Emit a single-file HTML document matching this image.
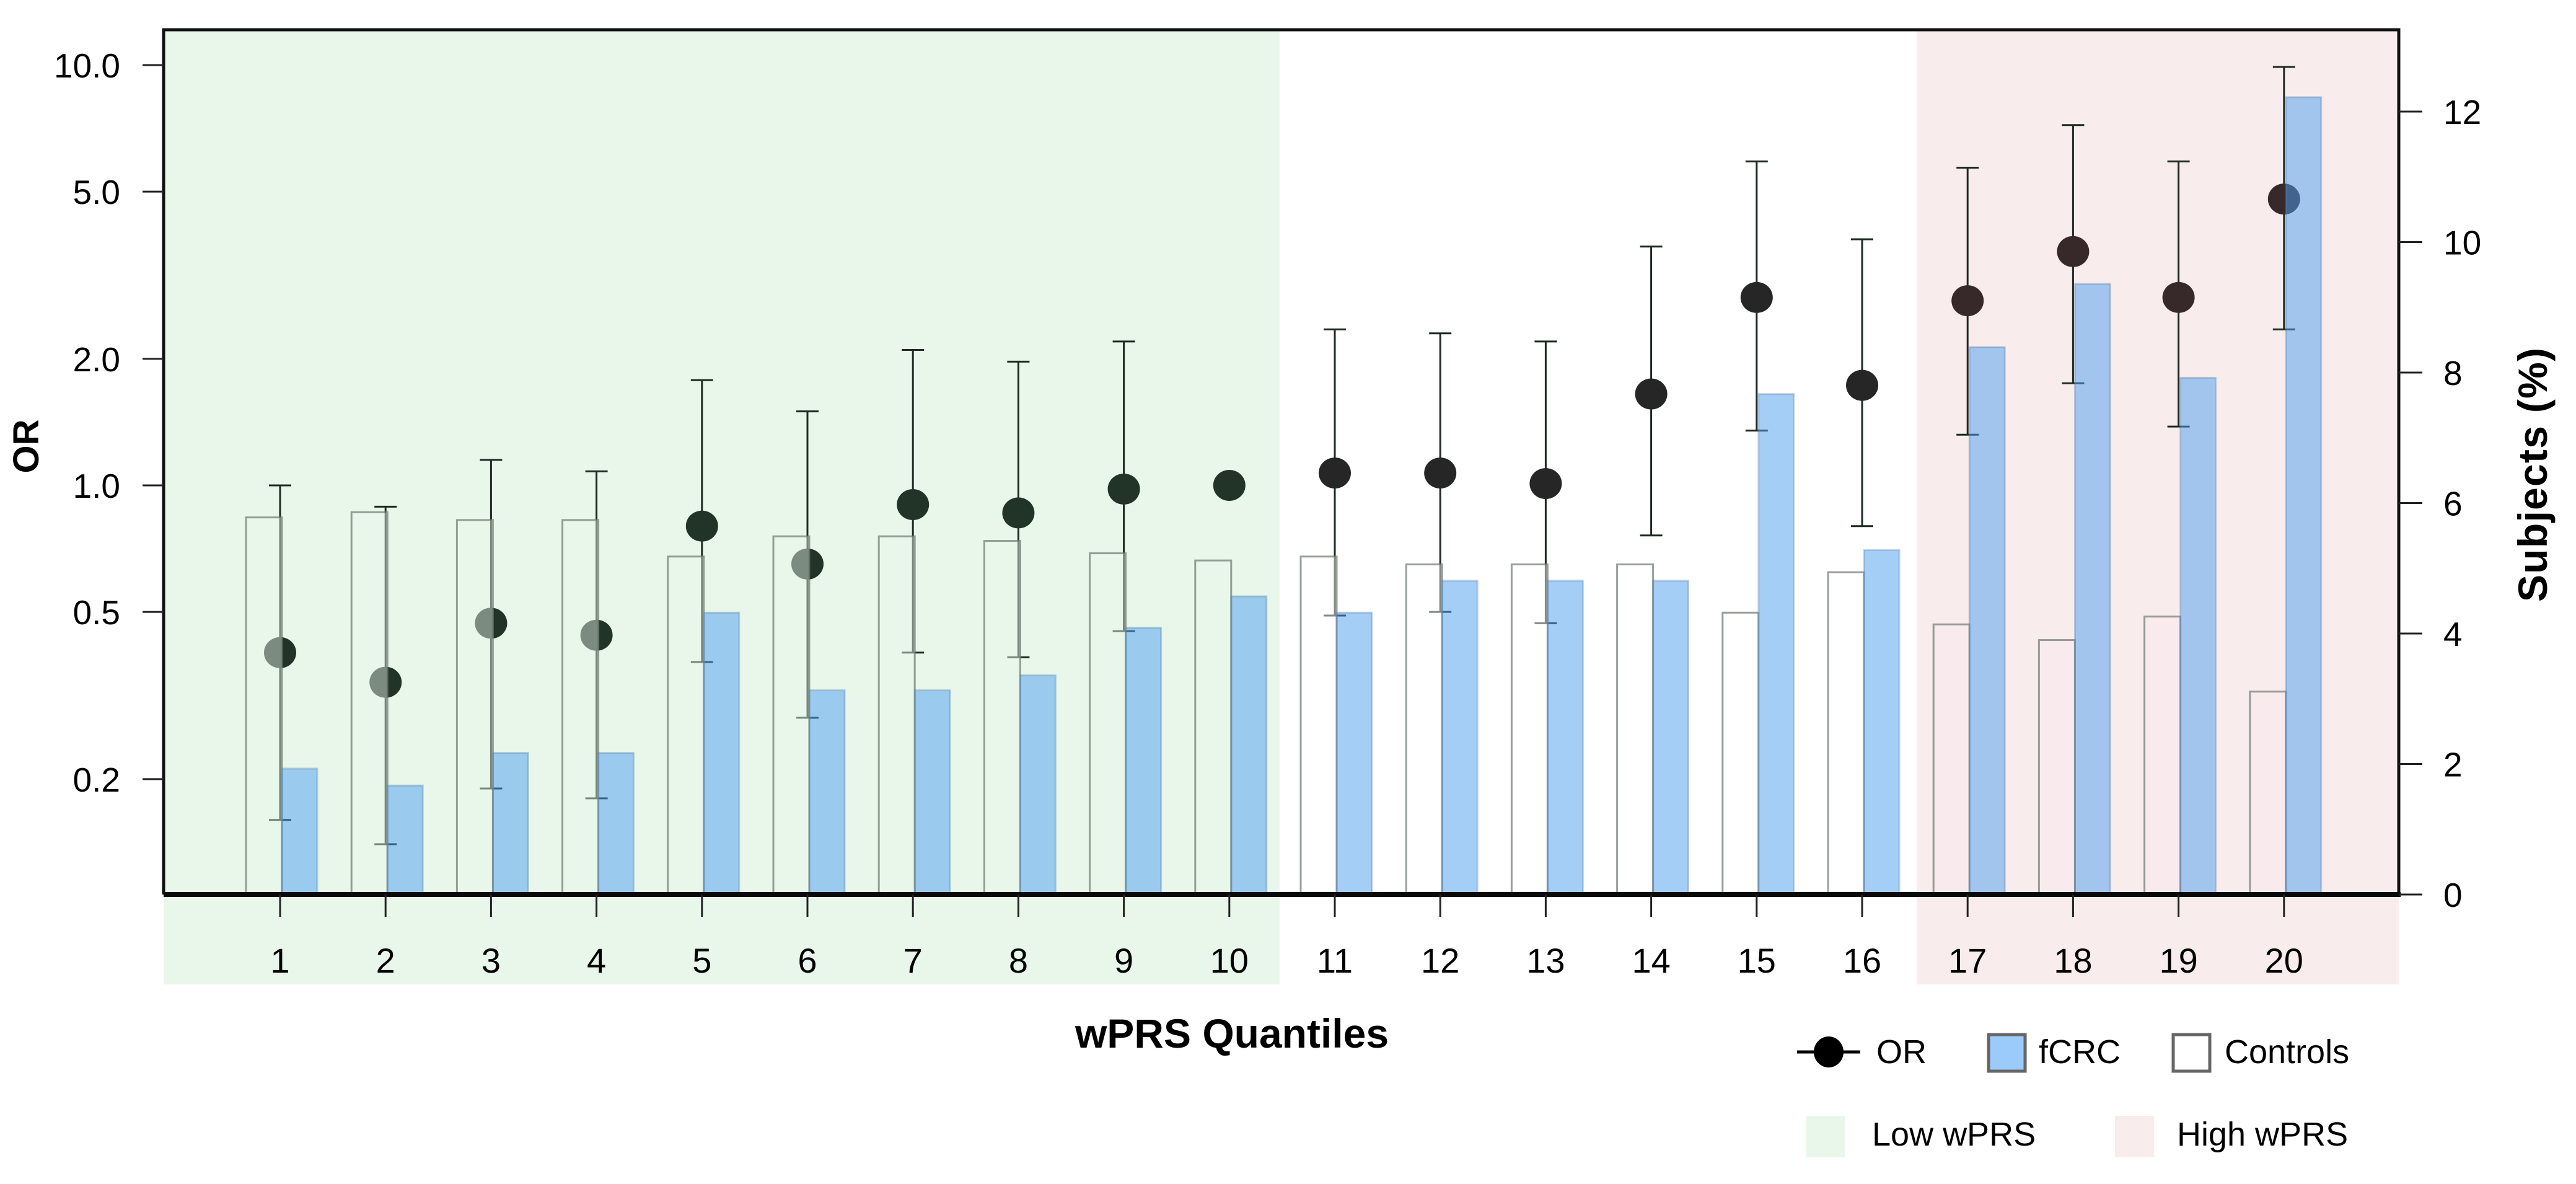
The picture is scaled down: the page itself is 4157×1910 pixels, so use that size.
<!DOCTYPE html>
<html><head><meta charset="utf-8"><style>
html,body{margin:0;padding:0;background:#fff;}
svg{display:block;font-family:"Liberation Sans",Arial,sans-serif;}
</style></head><body>
<svg id="chart" width="4157" height="1910" viewBox="0 0 4157 1910" xmlns="http://www.w3.org/2000/svg">
<rect x="264" y="48" width="1801" height="1540" fill="#e8f7ea"/>
<rect x="3093" y="48" width="778" height="1540" fill="#f9eced"/>
<g id="marks"></g>
<g id="axes"></g>
<text x="1988" y="1690" font-size="66" font-weight="bold" text-anchor="middle">wPRS Quantiles</text>
<text transform="translate(62,720) rotate(-90)" font-size="58" font-weight="bold" text-anchor="middle">OR</text>
<text transform="translate(4110,766) rotate(-90)" font-size="66" font-weight="bold" text-anchor="middle" textLength="410">Subjects (%)</text>
<g>
<g>
<line x1="2900" y1="1697" x2="3002" y2="1697" stroke="#000" stroke-width="5"/>
<ellipse cx="2951" cy="1697" rx="24" ry="25" fill="#000"/>
<text x="3028" y="1715" font-size="54">OR</text></g>
<g>
<rect x="3209" y="1669" width="59" height="59" fill="#9bcbfb" stroke="#666" stroke-width="5"/>
<text x="3290" y="1715" font-size="54">fCRC</text></g>
<g>
<rect x="3507" y="1669" width="59" height="59" fill="#fff" stroke="#666" stroke-width="5"/>
<text x="3590" y="1715" font-size="54">Controls</text></g>
<g>
<rect x="2915" y="1800" width="62" height="67" fill="#e8f7ea"/>
<text x="3021" y="1848" font-size="54">Low wPRS</text></g>
<g>
<rect x="3413" y="1800" width="63" height="67" fill="#f9eced"/>
<text x="3513" y="1848" font-size="54">High wPRS</text></g>
</g>
</svg>
<script>
const categories = [1,2,3,4,5,6,7,8,9,10,11,12,13,14,15,16,17,18,19,20];
const orValues = [0.40,0.34,0.47,0.44,0.80,0.65,0.90,0.86,0.98,1.0,1.07,1.07,1.01,1.65,2.8,1.73,2.75,3.6,2.8,4.8];
const ciLower = [0.16,0.14,0.19,0.18,0.38,0.28,0.40,0.39,0.45,null,0.49,0.50,0.47,0.76,1.35,0.80,1.32,1.75,1.38,2.35];
const ciUpper = [1.0,0.89,1.15,1.08,1.78,1.5,2.1,1.97,2.2,null,2.35,2.3,2.2,3.7,5.9,3.85,5.7,7.2,5.9,9.9];
const fcrcPct = [1.93,1.67,2.17,2.17,4.32,3.13,3.13,3.36,4.09,4.57,4.32,4.81,4.81,4.81,7.67,5.28,8.39,9.36,7.92,12.22];
const controlsPct = [5.78,5.86,5.74,5.74,5.18,5.49,5.49,5.42,5.23,5.12,5.18,5.06,5.06,5.06,4.32,4.94,4.14,3.90,4.26,3.11];
const orTicks = [10.0,5.0,2.0,1.0,0.5,0.2];
const orTickLabels = ["10.0","5.0","2.0","1.0","0.5","0.2"];
const pctTicks = [0,2,4,6,8,10,12];

const NS = "http://www.w3.org/2000/svg";
const L = 264, R = 3871, T = 48, B = 1443;
function xPos(i){ return 452 + i * 170.2; }
function yOR(v){ return 783 - Math.log10(v) * 678; }
function yPct(v){ return 1443 - v * 105.25; }
function mk(tag, attrs, parent){ const e = document.createElementNS(NS, tag); for (const k in attrs) e.setAttribute(k, attrs[k]); parent.appendChild(e); return e; }

const marks = document.getElementById('marks');
const axes = document.getElementById('axes');

categories.forEach((c, i) => {
  const x = xPos(i);
  if (ciLower[i] !== null) {
    const g = mk('g', {stroke: '#1e2a22', 'stroke-width': 3}, marks);
    
    
    mk('line', {x1: x, x2: x, y1: yOR(ciUpper[i]), y2: yOR(ciLower[i])}, g);
    mk('line', {x1: x - 18, x2: x + 18, y1: yOR(ciUpper[i]), y2: yOR(ciUpper[i])}, g);
    mk('line', {x1: x - 18, x2: x + 18, y1: yOR(ciLower[i]), y2: yOR(ciLower[i])}, g);
  }
  const dot = mk('ellipse', {cx: x, cy: yOR(orValues[i]), rx: 26, ry: 25, fill: i < 10 ? '#223327' : (i < 16 ? '#262626' : '#37282a')}, marks);
  
  
});
categories.forEach((c, i) => {
  const x = xPos(i);
  const bg = x < 2065 ? 'rgba(232,247,234,0.45)' : (x > 3093 ? 'rgba(249,236,237,0.45)' : 'rgba(255,255,255,0.45)');
  const cb = mk('rect', {x: x - 55, y: yPct(controlsPct[i]), width: 58, height: B - yPct(controlsPct[i]), fill: bg, stroke: 'rgba(110,120,112,0.7)', 'stroke-width': 3}, marks);
  
  
  const fb = mk('rect', {x: x + 3, y: yPct(fcrcPct[i]), width: 57, height: B - yPct(fcrcPct[i]), fill: 'rgba(75,157,239,0.5)', stroke: 'rgba(90,130,170,0.35)', 'stroke-width': 3}, marks);
  
  
});

const frame = mk('path', {d: `M${L},${B} L${L},${T} L${R},${T} L${R},${B}`, fill: 'none', stroke: '#111', 'stroke-width': 5}, axes);


const xaxis = mk('line', {x1: L, x2: R + 3, y1: B, y2: B, stroke: '#0a0a0a', 'stroke-width': 8}, axes);



categories.forEach((c, i) => {
  const x = xPos(i);
  mk('line', {x1: x, x2: x, y1: B, y2: 1479, stroke: '#222', 'stroke-width': 3}, axes);
  const t = mk('text', {x: x, y: 1569, 'font-size': 56, 'text-anchor': 'middle'}, axes);
  
  
  t.textContent = c;
});
orTicks.forEach((v, i) => {
  const y = yOR(v);
  mk('line', {x1: 230, x2: L, y1: y, y2: y, stroke: '#222', 'stroke-width': 3}, axes);
  const t = mk('text', {x: 194, y: y + 20, 'font-size': 55, 'text-anchor': 'end'}, axes);
  
  
  t.textContent = orTickLabels[i];
});
pctTicks.forEach(v => {
  const y = yPct(v);
  mk('line', {x1: R, x2: 3909, y1: y, y2: y, stroke: '#222', 'stroke-width': 3}, axes);
  const t = mk('text', {x: 3943, y: y + 20, 'font-size': 55}, axes);
  
  
  t.textContent = v;
});
</script>
</body></html>
